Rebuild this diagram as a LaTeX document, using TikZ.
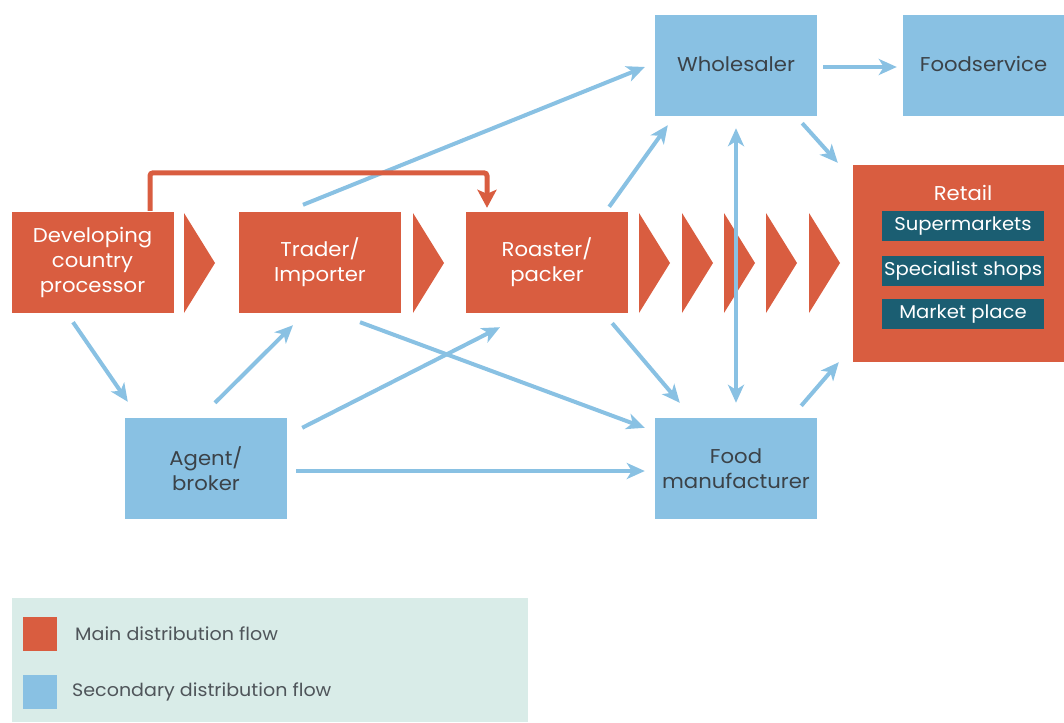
\documentclass[tikz,border=0pt]{standalone}
\usepackage{fontspec}
\setmainfont{Poppins}[FakeStretch=1.06]
\usetikzlibrary{arrows.meta,calc}
\definecolor{mred}{HTML}{D95D40}
\definecolor{mblue}{HTML}{89C1E3}
\definecolor{mteal}{HTML}{1B5E72}
\definecolor{mleg}{HTML}{D9ECE8}
\definecolor{mtxt}{HTML}{3B4248}
\begin{document}
\begin{tikzpicture}[x=1pt,y=-1pt,
  box/.style={inner sep=0pt, align=center, font=\fontsize{20}{25}\selectfont, minimum width=162pt, minimum height=101pt},
  redbox/.style={box, fill=mred, text=white},
  bluebox/.style={box, fill=mblue, text=mtxt},
  tealbox/.style={inner sep=0pt, fill=mteal, text=white, minimum width=162pt, minimum height=30pt, font=\fontsize{18.5}{22}\selectfont},
  chev/.style={fill=mred, draw=none},
  arr/.style={draw=mblue, line width=4pt, -{Stealth[length=18pt,width=16pt,inset=5pt]}},
  arrboth/.style={draw=mblue, line width=4pt, {Stealth[length=18pt,width=16pt,inset=5pt]}-{Stealth[length=18pt,width=16pt,inset=5pt]}},
  mainarr/.style={draw=mred, line width=5pt, rounded corners=3pt, -{Stealth[length=18pt,width=19pt,inset=4pt]}},
  legtext/.style={anchor=west, inner sep=0pt, text=mtxt!90, font=\fontsize{18}{20}\selectfont}
]
\useasboundingbox (0,0) rectangle (1064,722);

% main chain
\node[redbox] (dev) at (92.5,262.5) {Developing\\country\\processor};
\node[redbox] (trader) at (320,262.5) {Trader/\\Importer};
\node[redbox] (roaster) at (547,262.5) {Roaster/\\packer};

% chevrons
\foreach \cx in {184,413,639,682,724,766,809}{
  \fill[chev] (\cx,213) -- (\cx+31,263) -- (\cx,313) -- cycle;
}

% retail
\node[fill=mred, inner sep=0pt, minimum width=211pt, minimum height=197pt] (retail) at (958.5,263.5) {};
\node[text=white, inner sep=0pt, font=\fontsize{20}{22}\selectfont] (retlab) at (963,193) {Retail};
\node[tealbox] (sup) at (963,226) {Supermarkets};
\node[tealbox] (spec) at (963,270.5) {Specialist shops};
\node[tealbox] (mkt) at (963,314) {Market place};

% secondary
\node[bluebox] (whole) at (736,65.5) {\raisebox{3pt}{Wholesaler}};
\node[bluebox, minimum width=161pt] (fserv) at (983.5,65.5) {\raisebox{3pt}{Foodservice}};
\node[bluebox] (agent) at (206,468.5) {Agent/\\broker};
\node[bluebox] (food) at (736,468.5) {Food\\manufacturer};

% blue connectors
\draw[arr] ($(dev.south)+(-19.5,9)$) -- ($(agent.north west)+(3,-16)$);
\draw[arr] ($(agent.north)+(9,-15)$) -- ($(trader.south)+(-27,12)$);
\draw[arr] ($(agent.north east)+(15,10)$) -- ($(roaster.south)+(-47,14)$);
\draw[arr] ($(agent.east)+(9,2.5)$) -- ($(food.west)+(-10,2.5)$);
\draw[arr] ($(trader.south)+(40,9)$) -- ($(food.north west)+(-10,10)$);
\draw[arr] ($(roaster.south east)+(-16,10)$) -- ($(food.north west)+(25,-15)$);
\draw[arr] ($(trader.north)+(-17,-7)$) -- ($(whole.west)+(-10,1.5)$);
\draw[arr] ($(roaster.north east)+(-19,-5)$) -- ($(whole.south west)+(13,9)$);
\draw[arrboth] ($(whole.south)+(0,12)$) -- ($(food.north)+(0,-15)$);
\draw[arr] ($(whole.east)+(6,1.5)$) -- ($(fserv.west)+(-6,1.5)$);
\draw[arr] ($(whole.south east)+(-15,7)$) -- ($(retail.north west)+(-15,-2)$);
\draw[arr] ($(food.north east)+(-16,-12)$) -- ($(retail.south west)+(-14,0)$);

% main red connector
\draw[mainarr] ($(dev.north)+(57.5,-1)$) |- ($(roaster.north)+(-60,-39)$) -- ($(roaster.north)+(-60,-4)$);

% legend
\fill[mleg] (12,598) rectangle (528,722);
\node[fill=mred, inner sep=0pt, minimum width=34pt, minimum height=34pt] (legred) at (40,634) {};
\node[fill=mblue, inner sep=0pt, minimum width=34pt, minimum height=34pt] (legblue) at (40,692) {};
\node[legtext] (legmain) at (75,634) {Main distribution flow};
\node[legtext] (legsec) at (72,692) {Secondary distribution flow};
\end{tikzpicture}
\end{document}
